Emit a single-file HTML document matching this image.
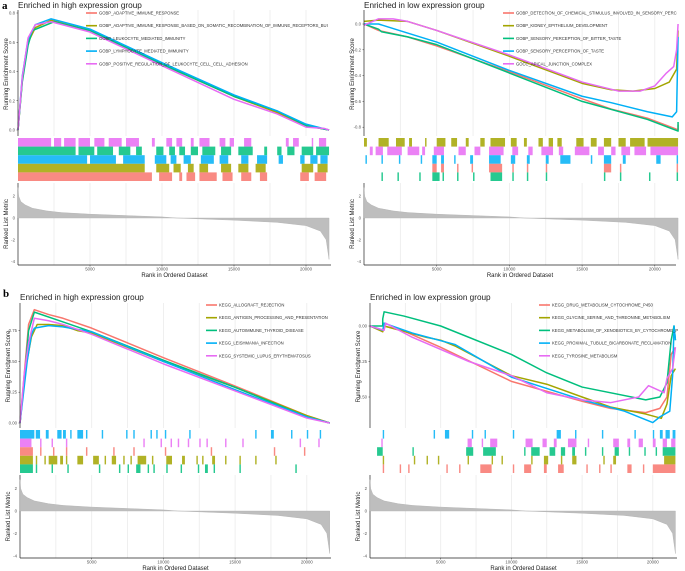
<!DOCTYPE html>
<html><head><meta charset="utf-8"><style>
html,body{margin:0;padding:0;background:#fff;}
svg{display:block;font-family:"Liberation Sans",sans-serif;}
</style></head><body>
<svg id="fig" width="685" height="571" viewBox="0 0 685 571"></svg>
<script>
// ---------- data (ranks in thousands) ----------
const colors = ["#F8766D","#A3A500","#00BF7D","#00B0F6","#E76BF3"];
const metricRanks = [0,0.05,0.2,0.5,1,2,3,5,8,10,11,13,15,18,20,21,21.4,21.6];
const metricVals  = [2.8,2.0,1.5,1.2,0.9,0.65,0.5,0.35,0.2,0.1,0,-0.1,-0.2,-0.4,-0.7,-1.2,-2.0,-3.8];

const aLeftNames = ["GOBP_ADAPTIVE_IMMUNE_RESPONSE","GOBP_ADAPTIVE_IMMUNE_RESPONSE_BASED_ON_SOMATIC_RECOMBINATION_OF_IMMUNE_RECEPTORS_BUI","GOBP_LEUKOCYTE_MEDIATED_IMMUNITY","GOBP_LYMPHOCYTE_MEDIATED_IMMUNITY","GOBP_POSITIVE_REGULATION_OF_LEUKOCYTE_CELL_CELL_ADHESION"];
const aLeftCurves = [
 [[0,0],[0.3,0.35],[0.7,0.6],[1.2,0.7],[2.3,0.75],[5,0.68],[10,0.45],[15,0.23],[18,0.12],[20,0.03],[21.6,0]],
 [[0,0],[0.3,0.34],[0.7,0.6],[1.2,0.7],[2.3,0.75],[5,0.68],[10,0.45],[15,0.23],[18,0.12],[20,0.03],[21.6,0]],
 [[0,0],[0.3,0.33],[0.7,0.58],[1,0.68],[1.5,0.7],[2.5,0.74],[5,0.68],[10,0.45],[15,0.23],[18,0.13],[20,0.03],[21.6,0]],
 [[0,0],[0.3,0.37],[0.7,0.62],[1.2,0.72],[2.3,0.76],[5,0.69],[10,0.46],[15,0.24],[18,0.13],[20,0.04],[21.6,0]],
 [[0,0],[0.3,0.36],[0.7,0.63],[1.2,0.72],[2.3,0.74],[5,0.67],[10,0.44],[15,0.21],[18,0.11],[20,0.02],[21.3,0.01],[21.6,0]]
];
const aLeftRugOrder = [4,2,3,1,0];
const aLeftRugs = [
 [[0,9.3],[9.8,10.7],[11.2,11.4],[11.7,12.3],[12.6,13.8],[14.2,14.9],[15.5,16.2],[16.8,17.3],[19.6,20.2],[20.6,21.4]],
 [[0,8.8],[9.6,10.5],[10.8,11.3],[11.8,12.2],[12.6,13.2],[14.1,14.8],[15.3,16],[16.5,17.2],[19.7,20.5],[20.8,21.5]],
 [[0,4],[4.2,5.3],[5.5,6.6],[7,7.8],[8.2,8.6],[9.6,10.1],[10.5,10.9],[11.2,11.6],[12,12.5],[12.8,13.7],[14.1,14.8],[15.3,16.3],[17.1,17.3],[18,18.3],[18.7,19.2],[19.7,20.5],[20.7,21.6]],
 [[0,4.8],[5,6.8],[7.3,8.8],[9.5,10.3],[10.6,11],[11.5,12],[12.7,13.6],[14,14.6],[15.5,16],[16.6,17.3],[18.1,18.4],[19.6,19.9],[20.3,20.8],[21,21.5]],
 [[0,2.3],[2.5,3],[3.2,4],[4.2,5],[5.3,6],[6.3,7.2],[7.5,8.4],[9.3,9.5],[10.3,10.7],[11,11.4],[12,12.2],[12.6,13.3],[14,14.4],[14.7,15],[15.7,16.2],[18.6,18.8],[19.1,19.5],[20.4,20.5],[20.9,21.4]]
];

const aRightNames = ["GOBP_DETECTION_OF_CHEMICAL_STIMULUS_INVOLVED_IN_SENSORY_PERC","GOBP_KIDNEY_EPITHELIUM_DEVELOPMENT","GOBP_SENSORY_PERCEPTION_OF_BITTER_TASTE","GOBP_SENSORY_PERCEPTION_OF_TASTE","GOCC_APICAL_JUNCTION_COMPLEX"];
const aRightCurves = [
 [[0,0],[1,-0.05],[3,-0.1],[5,-0.17],[10,-0.37],[15,-0.58],[17,-0.66],[19.5,-0.73],[21.6,-0.82],[21.6,-0.78]],
 [[0,0.02],[1,0.03],[3,0.02],[5,-0.05],[10,-0.25],[15,-0.46],[17,-0.51],[18.5,-0.52],[20,-0.5],[21,-0.45],[21.5,-0.35],[21.6,-0.05]],
 [[0,0],[1,-0.04],[1.2,-0.06],[3,-0.1],[5,-0.16],[10,-0.38],[15,-0.6],[19.5,-0.74],[21.6,-0.83],[21.6,-0.76]],
 [[0,0],[1,0],[3,-0.07],[5,-0.14],[10,-0.36],[15,-0.56],[17,-0.61],[19.5,-0.68],[21.2,-0.72],[21.5,-0.68],[21.6,-0.1]],
 [[0,-0.01],[1,0.04],[2,0.04],[3,0.02],[5,-0.05],[10,-0.24],[15,-0.45],[17.5,-0.52],[19,-0.52],[20,-0.48],[20.8,-0.38],[21.3,-0.33],[21.5,-0.2],[21.6,0]]
];
const aRightRugOrder = [1,4,3,0,2];
const aRightRugs = [
 [[4.7,5],[5.3,5.5],[6.4,6.5],[7.4,7.5],[8.6,9.5],[10.2,10.3],[11.2,11.3],[12.5,12.6],[16.5,17],[17.6,17.7],[21.5,21.6]],
 [[0,0.2],[1,1.7],[2.2,2.8],[3.1,3.3],[4.2,4.3],[5,5.6],[6,6.4],[7,7.2],[8,8.3],[8.7,9.7],[10.1,10.5],[11,11.2],[12,12.3],[12.7,13],[13.3,13.6],[14.6,15.1],[15.6,16],[16.5,17],[17.5,18],[18.3,19.3],[19.5,21.6]],
 [[1.2,1.3],[2.3,2.4],[3.8,3.9],[4.7,5.2],[5.4,5.5],[6.4,6.5],[7.5,7.6],[8.7,9.5],[10.2,10.3],[11.2,11.3],[12.5,12.6],[16.5,16.6],[17.6,17.7],[19.6,19.7],[21.5,21.6]],
 [[0.1,0.2],[1.2,1.3],[2.4,2.5],[3.9,4],[4.7,5],[5.3,5.5],[6.2,6.3],[7.3,7.5],[8.6,9.4],[10.1,10.4],[11.2,11.4],[12.5,12.7],[13.5,14.2],[15.6,15.7],[16.5,17],[17.8,18],[20.1,20.4],[21.5,21.6]],
 [[0.4,0.6],[0.8,1.3],[1.6,2.6],[3,3.8],[4,4.2],[4.8,5.5],[6.5,7],[7.6,8],[8.6,9.6],[10.2,10.6],[11.3,11.6],[12.2,13],[13.4,13.7],[14.5,15.5],[16.1,16.5],[17,17.3],[17.7,18.3],[18.6,19.4],[19.7,21.6]]
];

const bLeftNames = ["KEGG_ALLOGRAFT_REJECTION","KEGG_ANTIGEN_PROCESSING_AND_PRESENTATION","KEGG_AUTOIMMUNE_THYROID_DISEASE","KEGG_LEISHMANIA_INFECTION","KEGG_SYSTEMIC_LUPUS_ERYTHEMATOSUS"];
const bLeftCurves = [
 [[0,0],[0.3,0.4],[0.6,0.8],[1,0.92],[2,0.88],[3,0.85],[5,0.77],[10,0.53],[15,0.3],[20,0.06],[21.6,0]],
 [[0,0],[0.4,0.45],[0.8,0.7],[1.2,0.8],[2,0.8],[3,0.79],[4,0.75],[5,0.73],[10,0.5],[15,0.29],[20,0.06],[21.6,0]],
 [[0,0],[0.3,0.35],[0.6,0.75],[1,0.9],[3,0.82],[5,0.74],[10,0.51],[15,0.29],[20,0.05],[21.6,0]],
 [[0,0],[0.2,0.2],[0.5,0.5],[0.8,0.72],[1,0.77],[2,0.79],[3,0.78],[5,0.74],[10,0.5],[15,0.27],[20,0.05],[21.6,0]],
 [[0,0],[0.3,0.4],[0.6,0.65],[1,0.85],[2,0.83],[3,0.8],[5,0.72],[10,0.48],[15,0.26],[20,0.04],[21.6,0]]
];
const bLeftRugOrder = [3,4,0,1,2];
const bLeftRugs = [
 [[0,0.9],[1.4,1.5],[2.3,2.4],[3.2,3.3],[4.6,4.7],[6.5,6.6],[7.9,8],[10.1,10.2],[13.3,13.4],[17.7,17.8],[19.8,19.9]],
 [[0,0.9],[1.1,1.2],[1.7,1.8],[2,2.6],[2.8,3],[3.2,3.3],[4,4.4],[5.1,5.5],[5.9,6],[6.4,6.7],[7.2,7.3],[7.7,7.8],[8.2,8.8],[9.2,9.3],[10.2,10.6],[11.3,11.5],[12.3,12.4],[12.7,12.8],[13.4,13.6],[14.3,14.4],[15.3,15.4],[16.4,16.5],[17.8,17.9]],
 [[0,0.9],[1.1,1.2],[2.2,2.3],[3.3,3.4],[5.5,5.6],[6.9,7],[7.5,7.6],[8.1,8.4],[8.9,9],[9.3,9.4],[10.2,10.3],[11.2,11.3],[12.4,12.5],[12.9,13.1],[13.5,13.6],[15.3,15.4],[19.2,19.3]],
 [[0,1],[1.1,1.4],[1.8,2],[2.6,2.9],[3,3.2],[3.5,3.6],[4,4.4],[4.6,4.7],[5.7,5.8],[7.4,7.5],[7.9,8],[9.1,9.2],[9.5,9.6],[10.1,10.2],[11.8,11.9],[16.4,16.5],[17.5,17.7],[18.9,19],[20,20.1],[20.9,21]],
 [[0,0.8],[1.4,1.5],[2.2,2.3],[3.2,3.3],[8.6,8.7],[9.8,9.9],[10.5,10.6],[11,11.1],[11.7,11.8],[12.5,12.6],[13,13.1],[14.3,14.4],[15.5,15.6],[19.5,19.6],[20.8,20.9]]
];

const bRightNames = ["KEGG_DRUG_METABOLISM_CYTOCHROME_P450","KEGG_GLYCINE_SERINE_AND_THREONINE_METABOLISM","KEGG_METABOLISM_OF_XENOBIOTICS_BY_CYTOCHROME_P","KEGG_PROXIMAL_TUBULE_BICARBONATE_RECLAMATION","KEGG_TYROSINE_METABOLISM"];
const bRightCurves = [
 [[0,0],[0.9,-0.04],[1,0],[2.5,-0.04],[5,-0.15],[10,-0.39],[15,-0.53],[17,-0.58],[19.5,-0.61],[20.5,-0.58],[21,-0.5],[21.3,-0.2],[21.6,-0.15]],
 [[0,0],[0.9,-0.04],[1,0],[4,-0.08],[5,-0.1],[6,-0.14],[10,-0.35],[12.5,-0.41],[15,-0.5],[17,-0.57],[19.5,-0.62],[20.6,-0.65],[21,-0.55],[21.3,-0.35],[21.6,-0.3]],
 [[0,0],[0.9,0],[0.9,0.05],[1,0.1],[2.4,0.07],[5,0],[10,-0.2],[12.5,-0.33],[15,-0.43],[19.5,-0.52],[20.5,-0.5],[21,-0.4],[21.3,-0.1],[21.5,0],[21.6,-0.1]],
 [[0,0],[0.9,-0.03],[1,0.02],[3,-0.05],[6,-0.13],[10,-0.36],[15,-0.52],[18,-0.6],[20,-0.68],[20.5,-0.64],[21.2,-0.6],[21.4,-0.35],[21.5,0],[21.6,-0.1]],
 [[0,0],[1,-0.03],[1.1,0.02],[3,-0.08],[7,-0.25],[10,-0.35],[12.5,-0.47],[15,-0.52],[17,-0.54],[19,-0.5],[19.7,-0.42],[20.8,-0.47],[21,-0.37],[21.4,-0.3],[21.6,-0.15]]
];
const bRightRugOrder = [3,4,2,1,0];
const bRightRugs = [
 [[0.9,1],[2.1,2.2],[2.7,2.8],[5.4,5.5],[6.3,6.4],[7.8,8.6],[10.1,10.2],[10.9,11.4],[12.3,12.5],[13.3,13.7],[15.3,15.4],[16.2,16.3],[17,17.1],[18.2,18.5],[19.3,19.4],[20,21.6]],
 [[0.9,1],[3.1,3.2],[4,4.1],[4.8,4.9],[6.9,7],[8.6,8.7],[9.3,9.4],[11.4,11.5],[12.3,12.6],[13.5,13.6],[14.3,14.6],[16.5,16.6],[17.2,17.4],[20.8,21.6]],
 [[0.5,0.9],[3,3.1],[6.8,7.3],[8,8.9],[10.9,11],[11.4,12],[12.7,13.1],[13.5,13.8],[14.3,14.5],[15.2,15.3],[16.4,16.5],[17.3,17.6],[18.3,18.4],[19.4,19.5],[20.2,20.3],[20.7,21.6]],
 [[0.9,1],[4.5,4.6],[5.3,5.6],[7.2,7.3],[8.1,8.2],[10.1,10.2],[13.2,13.5],[14.5,14.6],[16.4,16.5],[18.7,18.8],[20,20.1],[20.5,20.7],[20.9,21.2],[21.4,21.6]],
 [[0.8,0.9],[6.9,7.2],[7.9,8],[8.5,9],[11,11.5],[12.2,12.5],[13,13.2],[14,14.6],[15.4,15.5],[17.2,17.6],[18.2,18.4],[19,19.3],[20,20.2],[20.7,21],[21.3,21.6]]
];

const xTickVals = [5,10,15,20];
const xTickLabels = ["5000","10000","15000","20000"];
const aLeftYTicks = [0,0.2,0.4,0.6,0.8];
const aLeftYLabels = ["0.0","0.2","0.4","0.6","0.8"];
const aRightYTicks = [0,-0.2,-0.4,-0.6,-0.8];
const aRightYLabels = ["0.0","-0.2","-0.4","-0.6","-0.8"];
const bLeftYTicks = [0,0.25,0.5,0.75];
const bLeftYLabels = ["0.00","0.25","0.50","0.75"];
const bRightYTicks = [0,-0.25,-0.5];
const bRightYLabels = ["0.00","-0.25","-0.50"];
const metTickVals = [2,0,-2,-4];
const metTickLabels = ["2","0","-2","-4"];

// ---------- drawing ----------
const NS="http://www.w3.org/2000/svg";
const svg=document.getElementById('fig');
function mk(tag,attrs,parent){const e=document.createElementNS(NS,tag);for(const k in attrs)e.setAttribute(k,attrs[k]);(parent||svg).appendChild(e);return e;}

function panel(cfg){
  const g=mk('g',{});
  
  
  const X=r=>cfg.x0+r*cfg.pxk;
  const Y=v=>cfg.esZero-v*cfg.esUnit;
  const MY=v=>cfg.met0-v*cfg.metUnit;
  const left=cfg.x0, right=cfg.right;
  // grid
  for(let r=2.5;r<=21;r+=2.5){
    [[cfg.top,cfg.rugTop-2],[cfg.metTop,cfg.metBot]].forEach(([a,b])=>{
      const l=mk('line',{x1:X(r),x2:X(r),y1:a,y2:b,stroke:'#ebebeb','stroke-width':0.8},g);
      
      
    });
  }
  // title
  const t=mk('text',{x:left,y:cfg.titleY,'font-size':8.2,fill:'#222'},g);
  t.textContent=cfg.title;
  
  
  // y ticks ES
  cfg.esTicks.forEach((v,i)=>{
    const tx=mk('text',{x:left-3,y:Y(v)+1.5,'font-size':4.3,fill:'#555','text-anchor':'end'},g);
    tx.textContent=cfg.esLabels[i];
    
    
    mk('line',{x1:left-1.5,x2:left,y1:Y(v),y2:Y(v),stroke:'#333','stroke-width':0.5},g);
  });
  const yt=mk('text',{x:0,y:0,'font-size':6,fill:'#222','text-anchor':'middle',transform:`translate(${left-10},${(cfg.top+cfg.rugTop)/2}) rotate(-90)`},g);
  yt.textContent='Running Enrichment Score';
  
  
  // curves
  cfg.curves.forEach((c,i)=>{
    const p=mk('polyline',{points:c.map(d=>X(d[0])+','+Y(d[1])).join(' '),fill:'none',stroke:colors[i],'stroke-width':1.5,'stroke-linejoin':'round'},g);
    
    
  });
  // legend
  cfg.names.forEach((n,i)=>{
    const ly=cfg.legY+i*12.7;
    const l=mk('line',{x1:cfg.legX,x2:cfg.legX+11,y1:ly,y2:ly,stroke:colors[i],'stroke-width':1.6},g);
    
    
    const tx=mk('text',{x:cfg.legX+13,y:ly+1.5,'font-size':4.2,fill:'#333'},g);
    tx.textContent=n;
    
    
  });
  // rugs
  const rh=(cfg.rugBot-cfg.rugTop)/5;
  cfg.rugOrder.forEach((si,row)=>{
    cfg.rugs[si].forEach(s=>{
      const w=Math.max(0.8,X(s[1])-X(s[0]));
      const r=mk('rect',{x:X(s[0]),y:cfg.rugTop+row*rh,width:w,height:rh,fill:colors[si],opacity:0.85},g);
      
      
    });
  });
  // axis lines
  mk('line',{x1:left,x2:left,y1:cfg.top,y2:cfg.rugTop-2,stroke:'#222','stroke-width':0.7},g);
  mk('line',{x1:left,x2:left,y1:cfg.metTop,y2:cfg.metBot,stroke:'#222','stroke-width':0.7},g);
  mk('line',{x1:left,x2:right,y1:cfg.metBot,y2:cfg.metBot,stroke:'#222','stroke-width':0.7},g);
  // metric area
  let pts=X(metricRanks[0])+','+MY(0)+' ';
  metricRanks.forEach((r,i)=>{pts+=X(r)+','+MY(metricVals[i])+' ';});
  pts+=X(metricRanks[metricRanks.length-1])+','+MY(0);
  const a=mk('polygon',{points:pts,fill:'#bebebe',stroke:'#b0b0b0','stroke-width':0.4},g);
  
  
  metTickVals.forEach((v,i)=>{
    const tx=mk('text',{x:left-3,y:MY(v)+1.5,'font-size':4.3,fill:'#555','text-anchor':'end'},g);
    tx.textContent=metTickLabels[i];
    
    
  });
  const mt=mk('text',{x:0,y:0,'font-size':6,fill:'#222','text-anchor':'middle',transform:`translate(${left-10},${(cfg.metTop+cfg.metBot)/2}) rotate(-90)`},g);
  mt.textContent='Ranked List Metric';
  
  
  xTickVals.forEach((v,i)=>{
    mk('line',{x1:X(v),x2:X(v),y1:cfg.metBot,y2:cfg.metBot+1.5,stroke:'#333','stroke-width':0.5},g);
    const tx=mk('text',{x:X(v),y:cfg.metBot+5.5,'font-size':4.3,fill:'#555','text-anchor':'middle'},g);
    tx.textContent=xTickLabels[i];
    
    
  });
  const xt=mk('text',{x:(left+right)/2,y:cfg.metBot+12,'font-size':6,fill:'#222','text-anchor':'middle'},g);
  xt.textContent='Rank in Ordered Dataset';
  
  
}

panel({name:'panel-a-high',title:'Enriched in high expression group',titleY:8,x0:18,pxk:14.4,right:331,top:10,esZero:130,esUnit:146.25,esTicks:aLeftYTicks,esLabels:aLeftYLabels,rugTop:138,rugBot:181,metTop:183,met0:218,metUnit:10.9,metBot:265,curves:aLeftCurves,names:aLeftNames,rugs:aLeftRugs,rugOrder:aLeftRugOrder,legX:86,legY:13});
panel({name:'panel-a-low',title:'Enriched in low expression group',titleY:8,x0:364,pxk:14.54,right:676,top:10,esZero:24,esUnit:129,esTicks:aRightYTicks,esLabels:aRightYLabels,rugTop:138,rugBot:181,metTop:183,met0:218,metUnit:10.9,metBot:265,curves:aRightCurves,names:aRightNames,rugs:aRightRugs,rugOrder:aRightRugOrder,legX:503,legY:13});
panel({name:'panel-b-high',title:'Enriched in high expression group',titleY:300,x0:20,pxk:14.34,right:331,top:303,esZero:423,esUnit:123.2,esTicks:bLeftYTicks,esLabels:bLeftYLabels,rugTop:430,rugBot:473,metTop:475,met0:511,metUnit:11.2,metBot:558,curves:bLeftCurves,names:bLeftNames,rugs:bLeftRugs,rugOrder:bLeftRugOrder,legX:206,legY:305});
panel({name:'panel-b-low',title:'Enriched in low expression group',titleY:300,x0:370,pxk:14.14,right:677,top:303,esZero:326,esUnit:142,esTicks:bRightYTicks,esLabels:bRightYLabels,rugTop:430,rugBot:473,metTop:475,met0:511,metUnit:11.2,metBot:558,curves:bRightCurves,names:bRightNames,rugs:bRightRugs,rugOrder:bRightRugOrder,legX:539,legY:305});

const la=mk('text',{x:2,y:9,'font-size':11,'font-weight':'bold','font-family':'Liberation Serif, serif',fill:'#000'});
la.textContent='a';


const lb=mk('text',{x:3,y:297,'font-size':11,'font-weight':'bold','font-family':'Liberation Serif, serif',fill:'#000'});
lb.textContent='b';


</script>
</body></html>
